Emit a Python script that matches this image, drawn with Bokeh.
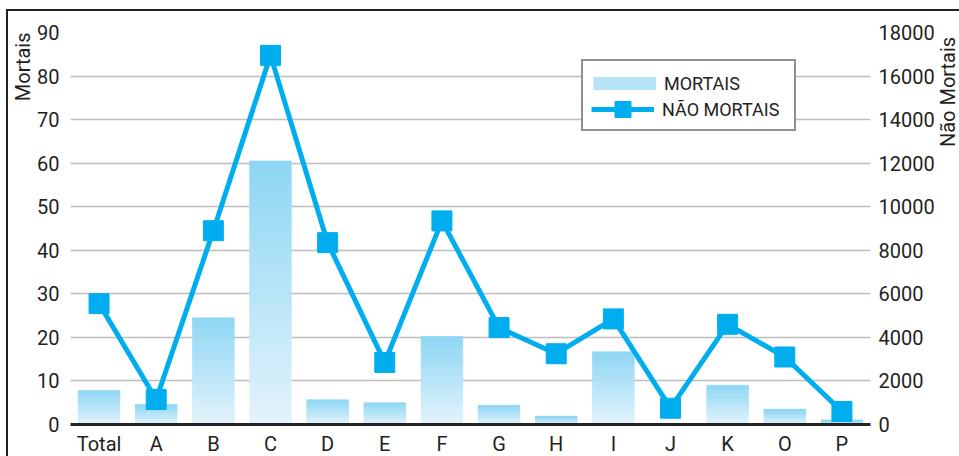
import math
from bokeh.plotting import figure
from bokeh.layouts import row
from bokeh.models import (FactorRange, Range1d, LinearAxis, Legend, LegendItem,
                          ColumnDataSource, FixedTicker, Title, Label)
from bokeh.embed import file_html
from bokeh.resources import INLINE

categories = ["Total", "A", "B", "C", "D", "E", "F", "G", "H", "I", "J", "K", "O", "P"]
mortais = [7.8, 4.6, 24.5, 60.5, 5.7, 5.0, 20.2, 4.4, 1.9, 16.7, 0.2, 9.0, 3.5, 1.0]
nao_mortais = [5550, 1150, 8900, 16950, 8350, 2850, 9350, 4450, 3250, 4850, 750, 4600, 3100, 600]
left_ticks = [0, 10, 20, 30, 40, 50, 60, 70, 80, 90]
right_ticks = [0, 2000, 4000, 6000, 8000, 10000, 12000, 14000, 16000, 18000]

FONT = "Roboto"
TXT = "#231F20"
CYAN = "#00AEEF"

p = figure(width=929, height=447, x_range=FactorRange(*categories, range_padding=0),
           y_range=Range1d(0, 90), output_backend="svg", toolbar_location=None,
           min_border_left=60, min_border_right=62, min_border_top=21, min_border_bottom=32,
           styles={"border-left": "2px solid #222", "border-top": "2px solid #222",
                   "margin-left": "6px", "margin-top": "9px"})
p.outline_line_color = None
p.extra_y_ranges = {"right": Range1d(0, 18000)}

# gradient bars (slices from light bottom to darker top)
N = 30
c0 = (0xE3, 0xF4, 0xFC)
c1 = (0x8D, 0xD5, 0xF4)
xs, bots, tops, cols = [], [], [], []
for cat, v in zip(categories, mortais):
    for i in range(N):
        t = (i + 0.5) / N
        col = "#%02x%02x%02x" % tuple(int(round(a + (b - a) * t)) for a, b in zip(c0, c1))
        xs.append(cat)
        bots.append(v * i / N)
        tops.append(v * (i + 1) / N)
        cols.append(col)
src = ColumnDataSource(dict(x=xs, bottom=bots, top=tops, color=cols))
p.vbar(x="x", bottom="bottom", top="top", width=0.73, source=src,
       fill_color="color", line_color="color", line_width=0.6)

line = p.line(categories, nao_mortais, y_range_name="right", line_width=5, color=CYAN)
sq = p.scatter(categories, nao_mortais, y_range_name="right", marker="square",
               size=20, color=CYAN)

# legend helpers (zero-length lines draw nothing in the plot)
bar_leg = p.line([categories[0], categories[0]], [0, 0], line_width=13,
                 line_color="#B5E4F8", line_cap="butt")
blank_leg = p.line([categories[0], categories[0]], [0, 0], line_alpha=0)

# axes
p.yaxis.ticker = FixedTicker(ticks=left_ticks)
p.yaxis.axis_line_color = None
p.yaxis.major_tick_line_color = None
p.yaxis.minor_tick_line_color = None
p.yaxis.major_label_standoff = 5
p.yaxis.major_label_text_font = FONT
p.yaxis.major_label_text_font_size = "20px"
p.yaxis.major_label_text_color = TXT

ra = LinearAxis(y_range_name="right", ticker=FixedTicker(ticks=right_ticks))
ra.axis_line_color = None
ra.major_tick_line_color = None
ra.minor_tick_line_color = None
ra.major_label_standoff = 2
ra.major_label_text_font = FONT
ra.major_label_text_font_size = "20px"
ra.major_label_text_color = TXT
p.add_layout(ra, "right")

p.xaxis.axis_line_width = 3
p.xaxis.axis_line_color = "#222222"
p.xaxis.major_tick_line_color = None
p.xaxis.minor_tick_line_color = None
p.xaxis.major_label_standoff = 1
p.xaxis.major_label_text_font = FONT
p.xaxis.major_label_text_font_size = "20px"
p.xaxis.major_label_text_color = TXT

p.xgrid.grid_line_color = None
p.ygrid.grid_line_color = "#BDBDBD"
p.ygrid.grid_line_width = 1.5

# left title
p.add_layout(Title(text="Mortais", align="right", text_font=FONT, text_font_size="20px",
                   text_font_style="normal", text_color=TXT, standoff=0,
                   text_line_height=1.0), "left")

legend1 = Legend(items=[LegendItem(label="MORTAIS", renderers=[bar_leg]),
                        LegendItem(label=" ", renderers=[blank_leg])],
                 location=(511, 293), orientation="vertical",
                 glyph_width=63, glyph_height=24, label_height=20, spacing=0,
                 padding=10, margin=0, label_standoff=8, label_width=120,
                 label_text_font=FONT, label_text_font_size="18px", label_text_color=TXT,
                 border_line_color="#222222", border_line_width=2,
                 background_fill_color="white", background_fill_alpha=1)
legend2 = Legend(items=[LegendItem(label="NÃO MORTAIS", renderers=[line, sq])],
                 location=(521, 295), orientation="vertical",
                 glyph_width=63, glyph_height=40, label_height=20, spacing=0,
                 padding=0, margin=0, label_standoff=8,
                 label_text_font=FONT, label_text_font_size="18px", label_text_color=TXT,
                 border_line_color=None, background_fill_alpha=0)
p.add_layout(legend1)
p.add_layout(legend2)

# narrow strip holding the right-hand axis title
p2 = figure(width=24, height=447, x_range=Range1d(0, 1), y_range=Range1d(0, 1),
            output_backend="svg", toolbar_location=None,
            x_axis_location=None, y_axis_location=None, min_border=0,
            styles={"border-top": "2px solid #222", "margin-top": "9px"})
p2.outline_line_color = None
p2.xgrid.grid_line_color = None
p2.ygrid.grid_line_color = None
p2.add_layout(Label(x=0.5, y=0.989, text="Não Mortais", angle=math.pi / 2,
                    text_align="right", text_baseline="middle",
                    text_font=FONT, text_font_size="20px", text_color=TXT))

layout = row(p, p2, spacing=0)
open("out.html", "w").write(file_html(layout, INLINE))
